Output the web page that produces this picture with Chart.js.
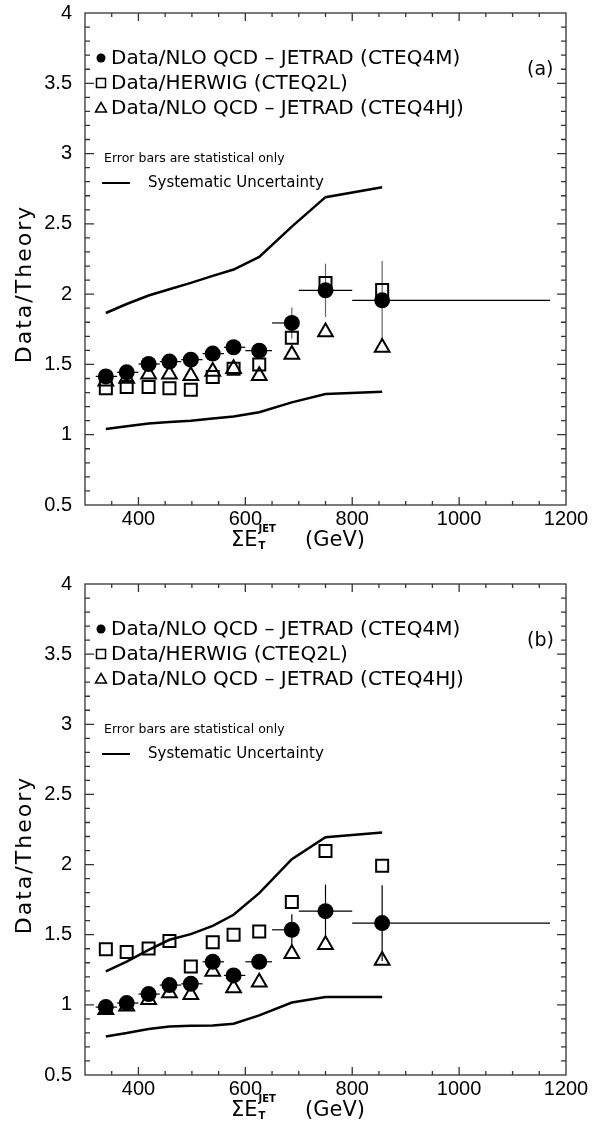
<!DOCTYPE html>
<html>
<head>
<meta charset="utf-8">
<title>Data/Theory vs Sum ET</title>
<script src="https://cdn.jsdelivr.net/npm/chart.js@4"></script>
<style>
  body { margin: 0; background: #fff; }
  canvas { display: block; }
</style>
</head>
<body>
<canvas id="chartA" width="598" height="561"></canvas>
<canvas id="chartB" width="598" height="561"></canvas>
<script>
// bin centres and bin edges, GeV
const etCentres = [339, 378, 419, 458, 498, 539, 578, 626, 687, 750, 856];
const etLow  = [320, 360, 400, 440, 480, 520, 560, 600, 650, 700, 800];
const etHigh = [360, 400, 440, 480, 520, 560, 600, 650, 700, 800, 1170];

const xTicks = [400, 600, 800, 1000, 1200];
const yTicks = [0.5, 1, 1.5, 2, 2.5, 3, 3.5, 4];

const legendLabels = [
    'Data/NLO QCD \u2013 JETRAD (CTEQ4M)',
    'Data/HERWIG (CTEQ2L)',
    'Data/NLO QCD \u2013 JETRAD (CTEQ4HJ)'
];

// panel (a)
const cteq4mA  = [1.415, 1.444, 1.503, 1.52, 1.534, 1.577, 1.622, 1.598, 1.795, 2.027, 1.956];
const statA    = [0.02, 0.02, 0.02, 0.02, 0.02, 0.02, 0.03, 0.04, 0.11, 0.19, 0.28];
const herwigA  = [1.33, 1.34, 1.34, 1.33, 1.32, 1.41, 1.47, 1.50, 1.69, 2.08, 2.03];
const cteq4hjA = [1.38, 1.40, 1.43, 1.43, 1.42, 1.45, 1.47, 1.42, 1.57, 1.73, 1.62];
const sysUpA   = [1.866, 1.93, 1.99, 2.035, 2.08, 2.13, 2.175, 2.265, 2.48, 2.69, 2.76];
const sysLoA   = [1.04, 1.06, 1.08, 1.09, 1.10, 1.115, 1.13, 1.16, 1.23, 1.29, 1.305];

// panel (b)
const cteq4mB  = [0.984, 1.013, 1.077, 1.141, 1.15, 1.307, 1.21, 1.307, 1.535, 1.668, 1.583];
const statB    = [0.02, 0.02, 0.02, 0.02, 0.02, 0.03, 0.03, 0.04, 0.11, 0.19, 0.27];
const herwigB  = [1.397, 1.376, 1.402, 1.455, 1.274, 1.447, 1.499, 1.523, 1.734, 2.097, 1.991];
const cteq4hjB = [0.965, 0.99, 1.036, 1.084, 1.072, 1.238, 1.12, 1.162, 1.364, 1.428, 1.316];
const sysUpB   = [1.238, 1.309, 1.392, 1.464, 1.504, 1.563, 1.642, 1.796, 2.038, 2.195, 2.228];
const sysLoB   = [0.775, 0.799, 0.828, 0.846, 0.851, 0.853, 0.865, 0.925, 1.017, 1.056, 1.056];

const pts = (ys) => etCentres.map((e, i) => ({ x: e, y: ys[i] }));

function decoPlugin(tag, statColor, circles, errs) {
    return {
        id: 'deco',
        beforeDatasetsDraw(chart) {
            const { ctx, chartArea: a, scales: { x, y } } = chart;
            ctx.save();
            // frame
            ctx.strokeStyle = '#333';
            ctx.lineWidth = 1.3;
            ctx.strokeRect(a.left, a.top, a.right - a.left, a.bottom - a.top);
            // inward ticks on all four sides
            ctx.beginPath();
            for (let v = 350; v < 1200; v += 50) {
                const px = x.getPixelForValue(v);
                const len = v % 200 === 0 ? 8 : 4;
                ctx.moveTo(px, a.bottom); ctx.lineTo(px, a.bottom - len);
                ctx.moveTo(px, a.top); ctx.lineTo(px, a.top + len);
            }
            for (let k = 6; k < 40; k++) {
                const py = y.getPixelForValue(k / 10);
                const len = k % 5 === 0 ? 9 : 5;
                ctx.moveTo(a.left, py); ctx.lineTo(a.left + len, py);
                ctx.moveTo(a.right, py); ctx.lineTo(a.right - len, py);
            }
            ctx.stroke();
            // bin widths and statistical errors
            ctx.lineWidth = 1.2;
            circles.forEach((v, i) => {
                const px = x.getPixelForValue(etCentres[i]);
                const py = y.getPixelForValue(v);
                ctx.strokeStyle = '#000';
                ctx.beginPath();
                ctx.moveTo(x.getPixelForValue(etLow[i]), py);
                ctx.lineTo(x.getPixelForValue(etHigh[i]), py);
                ctx.stroke();
                ctx.strokeStyle = statColor;
                ctx.beginPath();
                ctx.moveTo(px, y.getPixelForValue(v - errs[i]));
                ctx.lineTo(px, y.getPixelForValue(v + errs[i]));
                ctx.stroke();
            });
            ctx.restore();
        },
        afterDraw(chart) {
            const { ctx, chartArea: a } = chart;
            ctx.save();
            ctx.fillStyle = '#000';
            ctx.strokeStyle = '#000';
            // legend
            const lx = a.left + 16;
            const rows = [a.top + 45, a.top + 70, a.top + 95];
            ctx.beginPath();
            ctx.arc(lx, rows[0], 4.5, 0, Math.PI * 2);
            ctx.fill();
            ctx.lineWidth = 1.5;
            ctx.strokeRect(lx - 4.5, rows[1] - 4.5, 9, 9);
            ctx.beginPath();
            ctx.moveTo(lx, rows[2] - 5.5);
            ctx.lineTo(lx + 5.5, rows[2] + 4);
            ctx.lineTo(lx - 5.5, rows[2] + 4);
            ctx.closePath();
            ctx.stroke();
            ctx.font = '20px "DejaVu Sans"';
            ctx.textBaseline = 'middle';
            ctx.textAlign = 'left';
            legendLabels.forEach((t, i) => ctx.fillText(t, lx + 10, rows[i] + 1));
            ctx.font = '19px "DejaVu Sans"';
            ctx.fillText(tag, 527, a.top + 57);
            ctx.font = '12.5px "DejaVu Sans"';
            ctx.fillText('Error bars are statistical only', a.left + 19, a.top + 146);
            ctx.font = '15px "DejaVu Sans"';
            ctx.fillText('Systematic Uncertainty', a.left + 63, a.top + 170);
            ctx.lineWidth = 2;
            ctx.beginPath();
            ctx.moveTo(a.left + 17, a.top + 170);
            ctx.lineTo(a.left + 45, a.top + 170);
            ctx.stroke();
            // x axis title
            const by = a.bottom + 41;
            ctx.textBaseline = 'alphabetic';
            ctx.font = '21px "DejaVu Sans"';
            ctx.fillText('\u03A3E', 231, by);
            const w = ctx.measureText('\u03A3E').width;
            ctx.font = 'bold 10px "DejaVu Sans"';
            ctx.fillText('T', 231 + w + 1, by + 3);
            ctx.fillText('JET', 231 + w + 1, by - 14);
            ctx.font = '21px "DejaVu Sans"';
            ctx.fillText('(GeV)', 305, by);
            // y axis title
            ctx.translate(25, a.top + 271);
            ctx.rotate(-Math.PI / 2);
            ctx.textAlign = 'center';
            ctx.textBaseline = 'middle';
            ctx.font = '22px "DejaVu Sans"';
            ctx.letterSpacing = '2px';
            ctx.fillText('Data/Theory', 0, 0);
            ctx.restore();
        }
    };
}

function makePanel(id, top, xHeight, tag, statColor, circles, errs, herwig, hj, up, lo) {
    return new Chart(document.getElementById(id), {
        type: 'scatter',
        data: {
            datasets: [
                { data: pts(circles), pointStyle: 'circle', pointRadius: 8, borderWidth: 0,
                  backgroundColor: '#000', borderColor: '#000' },
                { data: pts(herwig), pointStyle: 'rect', pointRadius: 8.5, borderWidth: 2,
                  backgroundColor: 'rgba(0,0,0,0)', borderColor: '#000' },
                { data: pts(hj), pointStyle: 'triangle', pointRadius: 8.5, borderWidth: 2,
                  backgroundColor: 'rgba(0,0,0,0)', borderColor: '#000' },
                { data: pts(up), showLine: true, pointRadius: 0, borderWidth: 2.5,
                  borderColor: '#000', tension: 0, fill: false },
                { data: pts(lo), showLine: true, pointRadius: 0, borderWidth: 2.5,
                  borderColor: '#000', tension: 0, fill: false }
            ]
        },
        options: {
            responsive: false,
            animation: false,
            events: [],
            devicePixelRatio: 1,
            layout: { padding: { top: top, right: 32, left: 0, bottom: 0 } },
            plugins: { legend: { display: false }, tooltip: { enabled: false } },
            scales: {
                x: {
                    type: 'linear', min: 300, max: 1200,
                    afterBuildTicks: (s) => { s.ticks = xTicks.map(v => ({ value: v })); },
                    afterFit: (s) => { s.height = xHeight; s.paddingLeft = 0; s.paddingRight = 0; },
                    grid: { display: false, drawTicks: false },
                    border: { display: false },
                    ticks: { color: '#000', padding: 2, maxRotation: 0,
                             callback: (v) => String(v),
                             font: { family: 'Liberation Sans', size: 20 } }
                },
                y: {
                    type: 'linear', min: 0.5, max: 4,
                    afterBuildTicks: (s) => { s.ticks = yTicks.map(v => ({ value: v })); },
                    afterFit: (s) => { s.width = 85; s.paddingTop = 0; s.paddingBottom = 0; },
                    grid: { display: false, drawTicks: false },
                    border: { display: false },
                    ticks: { color: '#000', padding: 13,
                             callback: (v) => String(v),
                             font: { family: 'Liberation Sans', size: 20 } }
                }
            }
        },
        plugins: [decoPlugin(tag, statColor, circles, errs)]
    });
}

makePanel('chartA', 13, 56, '(a)', '#666', cteq4mA, statA, herwigA, cteq4hjA, sysUpA, sysLoA);
makePanel('chartB', 23, 47, '(b)', '#000', cteq4mB, statB, herwigB, cteq4hjB, sysUpB, sysLoB);
</script>
</body>
</html>
